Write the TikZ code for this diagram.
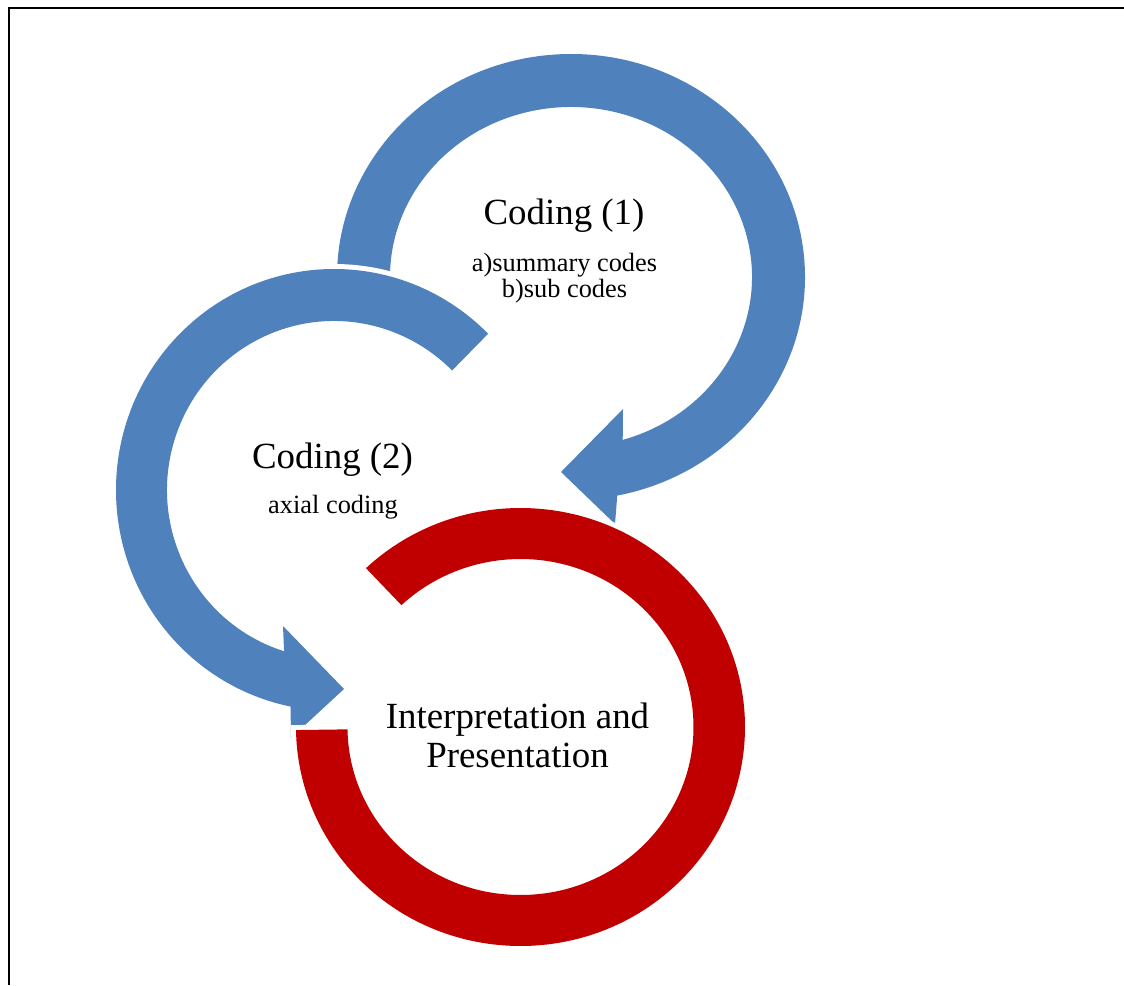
\documentclass[tikz,border=0pt]{standalone}
\usepackage{fontspec}
\setmainfont{Liberation Serif}
\definecolor{ringblue}{HTML}{4F81BD}
\definecolor{ringred}{HTML}{C00000}
\tikzset{
    ring/.style={line join=round, preaction={draw=white, line width=2mm}},
    bluering/.style={ring, fill=ringblue},
    redring/.style={ring, fill=ringred},
    steptitle/.style={anchor=base, font=\fontsize{21}{22}\selectfont, align=center},
    stepnote/.style={anchor=base, font=\fontsize{15}{15.3}\selectfont, align=center}
}

\begin{document}
\begin{tikzpicture}[x=0.02cm, y=0.02cm]
    \useasboundingbox (0,0) rectangle (1124,985);
    \draw[line width=0.6pt] (9,0) -- (9,977) -- (1124,977);

    % centres of the three rings
    \coordinate (c1) at (571,708);
    \coordinate (c2) at (334,495);
    \coordinate (c3) at (520.5,258);

    % coding (1)
    \fill[bluering] ([shift={(185:234 and 223)}]c1)
        arc[start angle=185, end angle=-78.6, x radius=234, y radius=223]
        -- (615,461) -- (561,513) -- (623,576)
        -- ([shift={(-73.4:181 and 170)}]c1)
        arc[start angle=-73.4, end angle=185, x radius=181, y radius=170] -- cycle;

    % coding (2)
    \fill[bluering] ([shift={(45:218 and 221)}]c2)
        arc[start angle=45, end angle=258.5, x radius=218, y radius=221]
        -- (291,247) -- (344,296) -- (283,359)
        -- ([shift={(252.6:167 and 169)}]c2)
        arc[start angle=252.6, end angle=45, x radius=167, y radius=169] -- cycle;

    % interpretation
    \fill[redring] ([shift={(133.5:224.5 and 219)}]c3)
        arc[start angle=133.5, end angle=-179.2, x radius=224.5, y radius=219]
        -- ([shift={(-179.2:173 and 168)}]c3)
        arc[start angle=-179.2, end angle=133.5, x radius=173, y radius=168] -- cycle;

    % labels (base of a two-line node is its last line)
    \node[steptitle] (code1) at (564,760) {Coding (1)};
    \node[stepnote] (code1note) at (564.5,687) {a)summary codes\\b)sub codes};
    \node[steptitle] (code2) at (332.5,517) {Coding (2)};
    \node[stepnote] (code2note) at (333,472) {axial coding};
    \node[steptitle] (interp) at (517.5,218) {Interpretation and\\Presentation};
\end{tikzpicture}
\end{document}
